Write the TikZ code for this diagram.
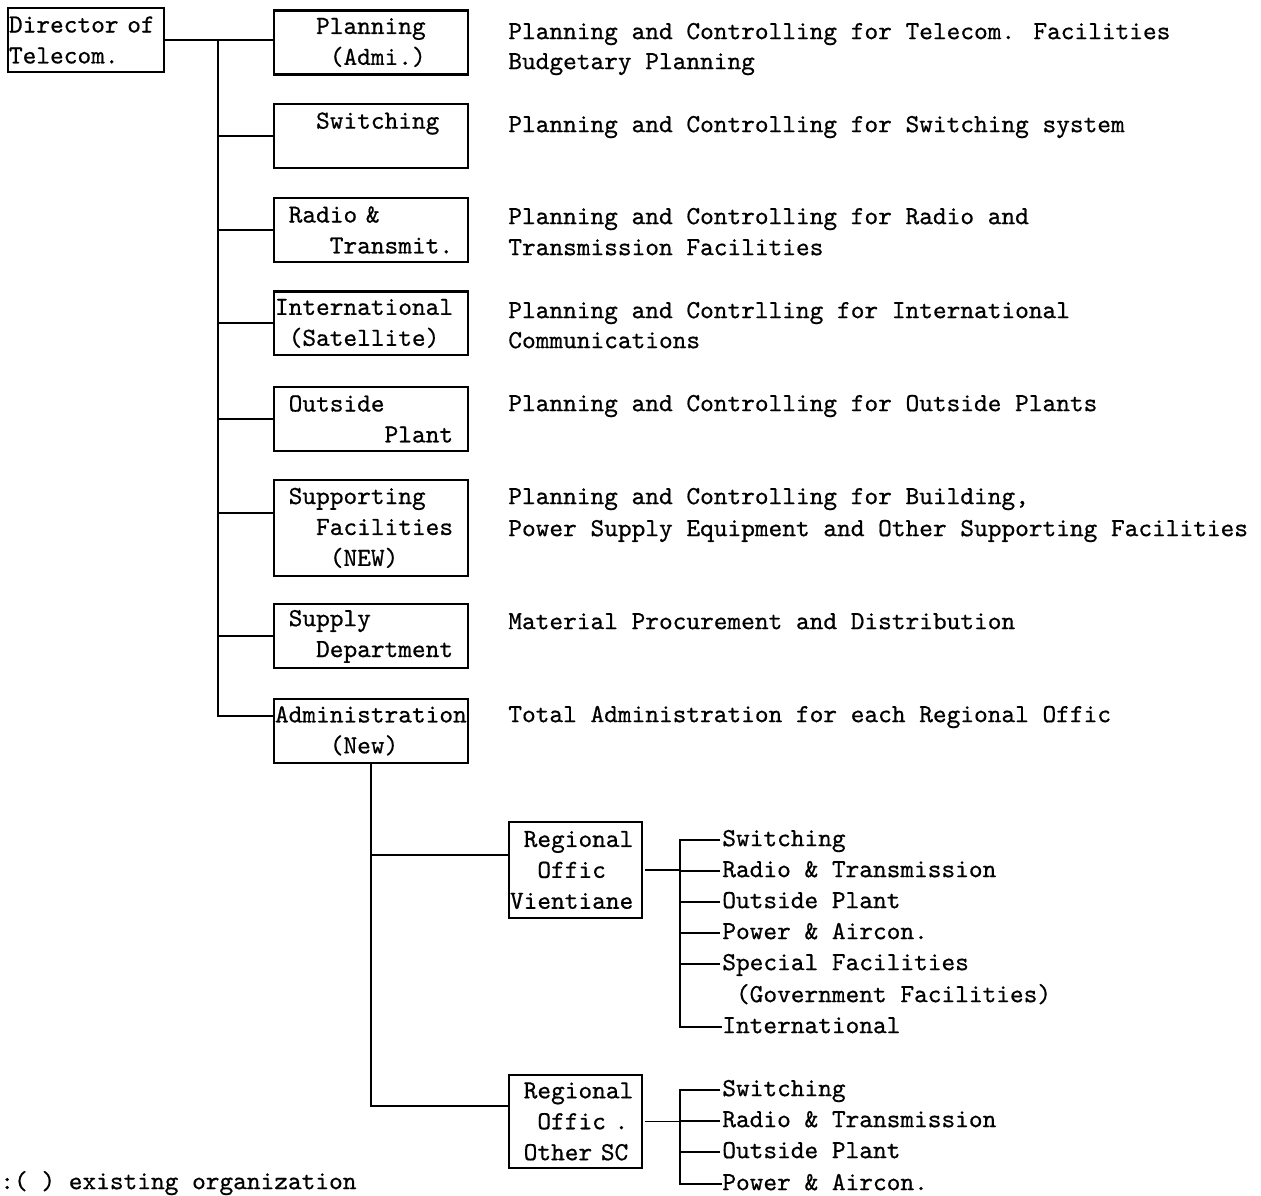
\documentclass[tikz,border=0pt]{standalone}
\usepackage{fontspec}
\usepackage{tikz}
\usetikzlibrary{positioning}
\newfontfamily\typefont{lmmono10-regular}[Extension=.otf, FakeBold=0.6]
\newcommand\twfont{\typefont\fontsize{14.85pt}{17.6pt}\selectfont\hyphenpenalty=10000}
\newcommand\ind[1]{\hspace*{#1\fontcharwd\font`M}}
\tikzset{
  box/.style={draw, line width=1.2pt, inner xsep=0.02cm, inner ysep=0pt, align=left, font=\twfont},
  dept/.style={box, text width=3.84cm, minimum height=1.28cm},
  region/.style={box, text width=2.62cm, minimum height=1.92cm},
  txt/.style={anchor=west, inner sep=0pt, font=\twfont, text height=10pt, text depth=3pt},
  link/.style={line width=1.1pt},
  tick/.style={line width=0.8pt, shorten <=1pt},
}

\begin{document}
\begin{tikzpicture}[x=0.02cm, y=-0.02cm, node distance=1.88cm]
\useasboundingbox (0,0) rectangle (1261,1196);

% Director
\node (dir) [box, text width=3.08cm, minimum height=1.28cm] at (86,40) {Director of\\Telecom.};

% Departments under the director
\node (plan) [dept] at (371,42.5) {\ind{3}Planning\\\ind{4}(Admi.)};
\node (sw) [dept, below of=plan, node distance=1.87cm] {\ind{3}Switching\\\mbox{}};
\node (radio) [dept, below of=sw] {\ind{1}Radio \&\\\ind{4}Transmit.};
\node (intl) [dept, below of=radio, node distance=1.87cm] {International\\\ind{1}(Satellite)};
\node (outp) [dept, below of=intl, node distance=1.91cm] {\ind{1}Outside\\\ind{8}Plant};
\node (supp) [dept, below of=outp, node distance=2.18cm, minimum height=1.92cm] {\ind{1}Supporting\\\ind{3}Facilities\\\ind{4}(NEW)};
\node (supply) [dept, below of=supp, node distance=2.17cm] {\ind{1}Supply\\\ind{3}Department};
\node (admin) [dept, below of=supply, node distance=1.89cm] {Administration\\\ind{4}(New)};

% Tasks of each department
\node (dplan) [txt] at (508,33) {Planning and Controlling for Telecom. Facilities};
\node (dplanb) [txt] at (508,63) {Budgetary Planning};
\node (dsw) [txt] at (508,126) {Planning and Controlling for Switching system};
\node (dradio) [txt] at (508,218) {Planning and Controlling for Radio and};
\node (dradiob) [txt] at (508,249) {Transmission Facilities};
\node (dintl) [txt] at (508,312) {Planning and Contrlling for International};
\node (dintlb) [txt] at (508,342) {Communications};
\node (doutp) [txt] at (508,405) {Planning and Controlling for Outside Plants};
\node (dsupp) [txt] at (508,498) {Planning and Controlling for Building,};
\node (dsuppb) [txt] at (508,530) {Power Supply Equipment and Other Supporting Facilities};
\node (dsupply) [txt] at (508,623) {Material Procurement and Distribution};
\node (dadmin) [txt] at (508,716) {Total Administration for each Regional Offic};

% Regional offices
\node (rov) [region] at (575.5,870) {\ind{1}Regional\\\ind{2}Offic\\Vientiane};
\node (ros) [region, below of=rov, node distance=5.03cm, minimum height=1.86cm] {\ind{1}Regional\\\ind{2}Offic .\\\ind{1}Other SC};

% Sections of Vientiane office
\node (vsw) [txt] at (722,840) {Switching};
\node (vrt) [txt] at (722,871) {Radio \& Transmission};
\node (vop) [txt] at (722,902) {Outside Plant};
\node (vpa) [txt] at (722,933) {Power \& Aircon.};
\node (vsf) [txt] at (722,964) {Special Facilities};
\node (vgov) [txt] at (722,996) {\ind{1}(Government Facilities)};
\node (vint) [txt] at (722,1027) {International};

% Sections of other offices
\node (osw) [txt] at (722,1090) {Switching};
\node (ort) [txt] at (722,1121) {Radio \& Transmission};
\node (oop) [txt] at (722,1152) {Outside Plant};
\node (opa) [txt] at (722,1184) {Power \& Aircon.};

\node (note) [txt] at (0,1183) {:( ) existing organization};

% Connectors
\coordinate (spine) at (218,0);
\coordinate (vbar) at (680,0);
\draw[link] (dir.east) -- (dir.east -| plan.west);
\draw[link] (dir.east -| spine) |- ([yshift=0.3cm]admin.west);
\foreach \n in {sw,radio,intl,outp,supply}
  \draw[link] (\n.west) -- (\n.west -| spine);
\draw[link] ([yshift=0.3cm]supp.west) -- ([yshift=0.3cm]supp.west -| spine);
\draw[link] (admin.south) |- ([yshift=0.3cm]rov.west);
\draw[link] (admin.south) |- ([yshift=0.3cm]ros.west);

\draw[tick] (rov.east) -- (rov.east -| vbar);
\draw[tick] (vsw.west) -- (vsw.west -| vbar) |- (vint.west);
\foreach \n in {vrt,vop,vpa,vsf}
  \draw[tick] (\n.west) -- (\n.west -| vbar);

\draw[tick] (ros.east) -- (ros.east -| vbar);
\draw[tick] (osw.west) -- (osw.west -| vbar) |- (opa.west);
\foreach \n in {ort,oop}
  \draw[tick] (\n.west) -- (\n.west -| vbar);
\end{tikzpicture}
\end{document}
